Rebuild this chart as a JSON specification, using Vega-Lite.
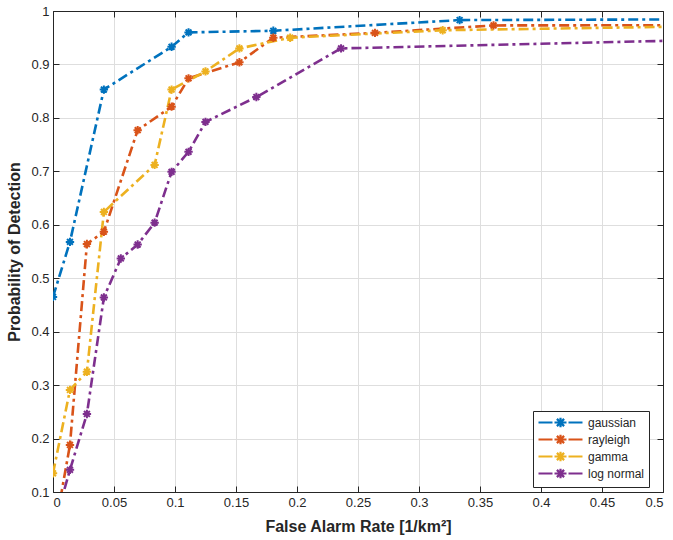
{
  "$schema": "https://vega.github.io/schema/vega-lite/v6.json",
  "width": 610,
  "height": 481,
  "autosize": "none",
  "padding": {"left": 53, "top": 11, "right": 10, "bottom": 48},
  "background": "white",
  "config": {
    "font": "Liberation Sans",
    "view": {"stroke": "#262626", "strokeWidth": 1},
    "axis": {
      "domainColor": "#262626",
      "tickColor": "#262626",
      "labelColor": "#262626",
      "titleColor": "#262626",
      "labelFont": "Liberation Sans",
      "titleFont": "Liberation Sans",
      "labelFontSize": 13,
      "titleFontSize": 16,
      "titleFontWeight": "bold",
      "gridColor": "#dedede",
      "gridWidth": 1,
      "tickSize": -6,
      "labelPadding": 10,
      "format": "~g"
    }
  },
  "data": {
    "values": [
      {"model": "gaussian", "far": 0.0, "pd": 0.465},
      {"model": "gaussian", "far": 0.0139, "pd": 0.568},
      {"model": "gaussian", "far": 0.0417, "pd": 0.853},
      {"model": "gaussian", "far": 0.0972, "pd": 0.933},
      {"model": "gaussian", "far": 0.1111, "pd": 0.960},
      {"model": "gaussian", "far": 0.1806, "pd": 0.963},
      {"model": "gaussian", "far": 0.3333, "pd": 0.983},
      {"model": "gaussian", "far": 0.55, "pd": 0.9845},

      {"model": "rayleigh", "far": 0.0, "pd": 0.01},
      {"model": "rayleigh", "far": 0.0139, "pd": 0.188},
      {"model": "rayleigh", "far": 0.0278, "pd": 0.564},
      {"model": "rayleigh", "far": 0.0417, "pd": 0.587},
      {"model": "rayleigh", "far": 0.0694, "pd": 0.777},
      {"model": "rayleigh", "far": 0.0972, "pd": 0.821},
      {"model": "rayleigh", "far": 0.1111, "pd": 0.874},
      {"model": "rayleigh", "far": 0.1528, "pd": 0.904},
      {"model": "rayleigh", "far": 0.1806, "pd": 0.950},
      {"model": "rayleigh", "far": 0.2639, "pd": 0.959},
      {"model": "rayleigh", "far": 0.3611, "pd": 0.973},
      {"model": "rayleigh", "far": 0.55, "pd": 0.9735},

      {"model": "gamma", "far": 0.0, "pd": 0.135},
      {"model": "gamma", "far": 0.0139, "pd": 0.291},
      {"model": "gamma", "far": 0.0278, "pd": 0.325},
      {"model": "gamma", "far": 0.0417, "pd": 0.624},
      {"model": "gamma", "far": 0.0833, "pd": 0.712},
      {"model": "gamma", "far": 0.0972, "pd": 0.853},
      {"model": "gamma", "far": 0.125, "pd": 0.887},
      {"model": "gamma", "far": 0.1528, "pd": 0.930},
      {"model": "gamma", "far": 0.1944, "pd": 0.950},
      {"model": "gamma", "far": 0.3194, "pd": 0.964},
      {"model": "gamma", "far": 0.55, "pd": 0.972},

      {"model": "log normal", "far": 0.0, "pd": 0.03},
      {"model": "log normal", "far": 0.0139, "pd": 0.1415},
      {"model": "log normal", "far": 0.0278, "pd": 0.246},
      {"model": "log normal", "far": 0.0417, "pd": 0.464},
      {"model": "log normal", "far": 0.0556, "pd": 0.537},
      {"model": "log normal", "far": 0.0694, "pd": 0.563},
      {"model": "log normal", "far": 0.0833, "pd": 0.604},
      {"model": "log normal", "far": 0.0972, "pd": 0.699},
      {"model": "log normal", "far": 0.1111, "pd": 0.7365},
      {"model": "log normal", "far": 0.125, "pd": 0.7925},
      {"model": "log normal", "far": 0.1667, "pd": 0.839},
      {"model": "log normal", "far": 0.2361, "pd": 0.930},
      {"model": "log normal", "far": 0.55, "pd": 0.9467}
    ]
  },
  "layer": [
    {
      "mark": {"type": "line", "clip": true, "strokeWidth": 2.6, "strokeDash": [10, 4, 3, 4]},
      "encoding": {
        "x": {
          "field": "far", "type": "quantitative",
          "scale": {"domain": [0, 0.5], "nice": false, "zero": false},
          "axis": {
            "orient": "bottom",
            "title": "False Alarm Rate [1/km²]",
            "values": [0, 0.05, 0.1, 0.15, 0.2, 0.25, 0.3, 0.35, 0.4, 0.45, 0.5],
            "titlePadding": 9
          }
        },
        "y": {
          "field": "pd", "type": "quantitative",
          "scale": {"domain": [0.1, 1], "nice": false, "zero": false},
          "axis": {
            "orient": "left",
            "title": "Probability of Detection",
            "values": [0.1, 0.2, 0.3, 0.4, 0.5, 0.6, 0.7, 0.8, 0.9, 1],
            "titlePadding": 8
          }
        },
        "color": {
          "field": "model", "type": "nominal",
          "scale": {
            "domain": ["gaussian", "rayleigh", "gamma", "log normal"],
            "range": ["#0072BD", "#D95319", "#EDB120", "#7E2F8E"]
          },
          "legend": {
            "title": null,
            "orient": "none",
            "legendX": 480,
            "legendY": 400,
            "direction": "vertical",
            "fillColor": "white",
            "strokeColor": "#262626",
            "padding": 4,
            "labelFont": "Liberation Sans",
            "labelFontSize": 12,
            "labelColor": "#262626",
            "labelOffset": 36,
            "rowPadding": -3,
            "symbolType": "M-1,0L1.333,0M1.667,0L3.667,0M4,0L6.333,0M2.067,-0.6L3.267,0.6M2.067,0.6L3.267,-0.6M2.667,-0.8L2.667,0.8",
            "symbolSize": 144,
            "symbolStrokeWidth": 2.2,
            "symbolFillColor": "transparent"
          }
        }
      }
    },
    {
      "mark": {
        "type": "point",
        "clip": true,
        "filled": false,
        "shape": "M-0.7,-0.7L0.7,0.7M-0.7,0.7L0.7,-0.7M0,-1L0,1M-1,0L1,0",
        "size": 70,
        "strokeWidth": 2,
        "opacity": 1
      },
      "encoding": {
        "x": {
          "field": "far", "type": "quantitative",
          "axis": {
            "orient": "top", "labels": false, "grid": false, "title": null,
            "values": [0, 0.05, 0.1, 0.15, 0.2, 0.25, 0.3, 0.35, 0.4, 0.45, 0.5]
          }
        },
        "y": {
          "field": "pd", "type": "quantitative",
          "axis": {
            "orient": "right", "labels": false, "grid": false, "title": null,
            "values": [0.1, 0.2, 0.3, 0.4, 0.5, 0.6, 0.7, 0.8, 0.9, 1]
          }
        },
        "color": {"field": "model", "type": "nominal", "legend": null}
      }
    }
  ],
  "resolve": {"axis": {"x": "independent", "y": "independent"}}
}
